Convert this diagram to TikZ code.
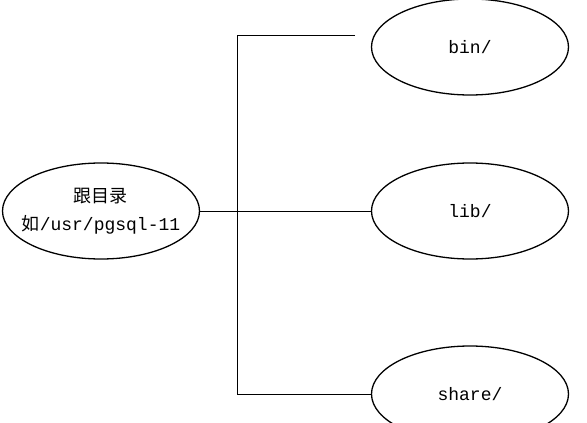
\documentclass[tikz,border=0pt]{standalone}
\usepackage{fontspec}
\setmonofont{Liberation Mono}
\newfontfamily\cjk{Noto Sans CJK SC}
\usetikzlibrary{shapes.geometric}
\begin{document}
\begin{tikzpicture}[x=1pt,y=-1pt]
		\tikzstyle{dir}=[ellipse,draw,line width=1.3pt,minimum width=197pt,minimum height=96pt,inner sep=0pt,font=\fontsize{18}{22}\selectfont\ttfamily]
		\tikzstyle{branch}=[line width=0.8pt]
		\useasboundingbox (0,0) rectangle (587,423);
		\node[dir,align=center,inner xsep=-12pt] (root) at (101,211) {{\cjk 跟目录}\\[6pt]{\cjk 如}/usr/pgsql-11};
		\node[dir] (bin) at (470,47) {bin/};
		\node[dir] (lib) at (470,211) {lib/};
		\node[dir] (share) at (470,394) {share/};
		\coordinate (top) at (237,35);
		\coordinate (topend) at (355,35);
		\coordinate (bot) at (237,394);
		\draw[branch] (root) -- (lib);
		\draw[branch] (topend) -- (top) -- (bot) -- (share);
		\end{tikzpicture}
\end{document}
